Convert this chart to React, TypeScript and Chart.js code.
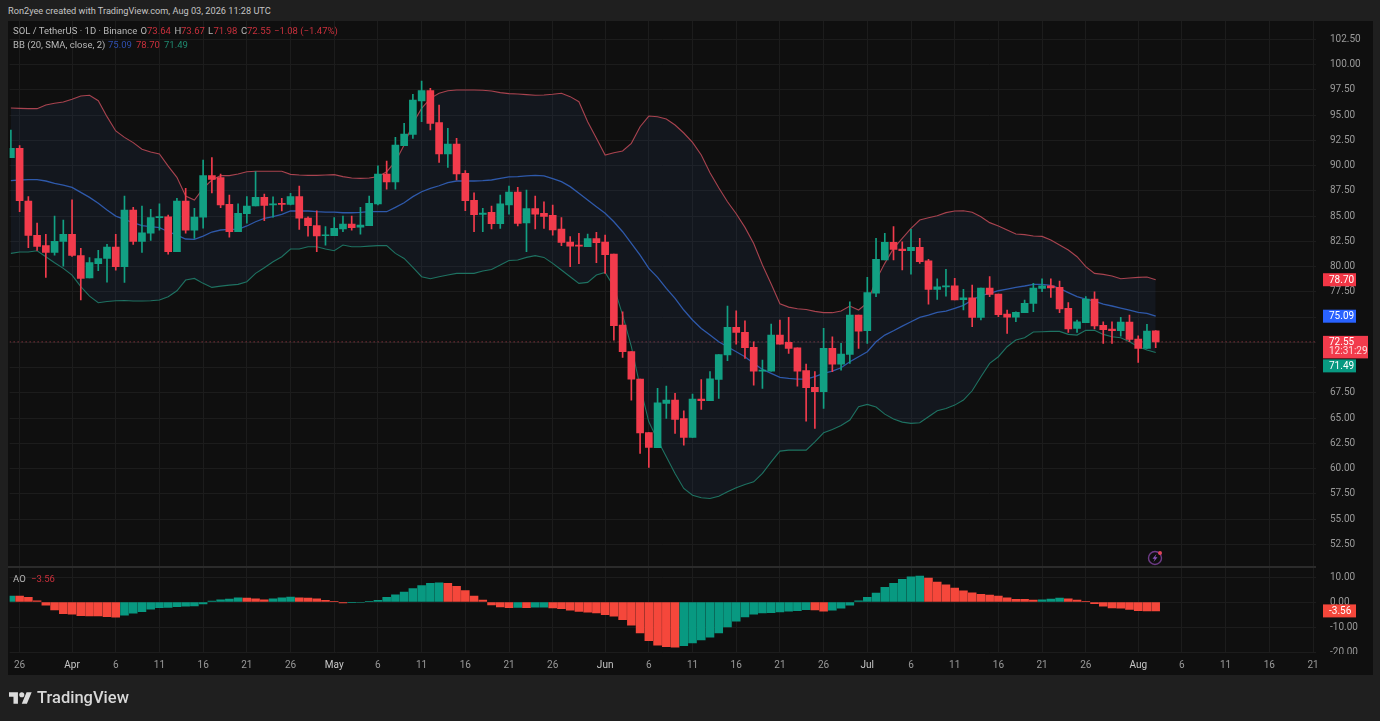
import React, { useEffect, useRef } from "react";
import { Chart, registerables } from "chart.js";

Chart.register(...registerables);

// Day index: 0 = Mar 26; the series begin on Mar 25 (-1) and end on Aug 3 (130)
const firstDay = -1;

const openValues = [
  90.78, 91.70, 86.49, 83.09, 82.07, 81.41, 82.50,
  83.20, 81.10, 78.87, 80.30, 80.80, 81.93, 79.99, 85.60, 82.50, 83.30, 84.84, 84.92, 81.47, 86.49, 83.60, 84.90, 89.00, 88.80, 86.16, 83.45, 85.24, 86.00, 86.85, 86.10, 86.17, 86.15, 86.92, 84.80, 84.05, 83.05,
  83.05, 83.72, 84.20, 83.90, 84.05, 86.20, 89.16, 88.37, 91.97, 93.09, 96.39, 97.41, 94.25, 91.14, 92.13, 89.23, 86.55, 85.17, 85.37, 84.25, 86.10, 87.38, 84.31, 85.73, 85.27, 85.07, 83.72, 82.43, 82.13, 81.97, 82.76,
  82.43, 81.24, 74.20, 71.60, 68.87, 63.58, 62.07, 66.45, 66.79, 64.97, 63.09, 66.89, 66.72, 68.84, 71.25, 73.98, 73.49, 72.00, 69.66, 69.66, 73.22, 72.50, 71.97, 69.70, 68.04, 67.61, 71.90, 70.35, 71.31, 75.20,
  73.65, 77.38, 80.65, 82.40, 81.74, 81.57, 81.90, 80.58, 77.74, 78.00, 78.10, 76.72, 76.92, 74.97, 77.88, 77.28, 75.30, 75.00, 75.44, 76.36, 77.85, 78.10, 77.94, 75.86, 73.88, 74.44, 76.79, 74.18, 73.82, 73.65, 74.51,
  72.83, 71.90, 73.64,
];
const highValues = [
  93.52, 91.97, 86.92, 84.30, 83.20, 85.00, 84.60,
  86.60, 81.80, 80.88, 81.60, 82.20, 83.20, 86.98, 85.86, 86.00, 85.67, 86.20, 85.10, 86.75, 87.75, 85.76, 90.55, 90.78, 89.16, 87.08, 86.20, 86.92, 89.40, 87.18, 86.90, 86.75, 87.25, 87.97, 84.93, 85.53, 83.95,
  84.84, 85.00, 85.00, 85.86, 86.98, 89.96, 90.45, 92.79, 94.18, 97.05, 98.37, 97.64, 95.99, 93.68, 92.70, 89.50, 87.30, 85.76, 85.99, 87.08, 87.97, 87.84, 87.58, 86.98, 86.42, 86.09, 84.84, 82.96, 83.30, 83.22, 83.38,
  83.12, 81.24, 75.53, 71.60, 68.87, 63.58, 67.94, 68.17, 67.45, 65.73, 67.38, 68.83, 69.60, 71.28, 76.10, 75.63, 74.64, 72.56, 70.75, 74.31, 74.71, 74.97, 71.97, 70.35, 69.60, 73.88, 73.06, 72.40, 76.52, 75.20,
  78.93, 82.80, 83.29, 83.95, 82.46, 83.69, 82.80, 80.71, 78.80, 79.73, 78.83, 77.75, 78.17, 77.88, 79.00, 77.28, 75.70, 75.53, 76.69, 78.34, 78.80, 78.80, 78.57, 76.43, 74.71, 77.02, 77.51, 74.54, 74.54, 74.97, 75.20,
  73.16, 74.28, 73.67,
];
const lowValues = [
  90.78, 85.43, 81.87, 81.60, 78.93, 81.14, 80.05,
  81.00, 76.70, 78.87, 79.60, 78.47, 79.65, 78.44, 82.20, 81.40, 82.60, 83.60, 81.24, 81.47, 83.30, 82.80, 83.80, 87.30, 85.83, 82.90, 83.45, 84.30, 86.00, 84.54, 84.90, 85.50, 86.10, 83.68, 83.00, 81.47, 82.13,
  83.05, 83.45, 83.60, 83.22, 84.05, 86.10, 87.65, 87.65, 91.97, 92.69, 94.34, 93.52, 90.30, 89.82, 88.57, 85.53, 83.45, 83.45, 83.72, 83.78, 85.20, 84.02, 81.47, 83.72, 83.78, 83.12, 82.07, 80.00, 80.30, 81.97, 80.40,
  79.33, 72.73, 71.00, 66.79, 61.50, 60.12, 62.07, 64.97, 63.49, 62.33, 63.09, 65.87, 66.72, 66.95, 70.68, 72.33, 70.91, 68.27, 67.94, 69.66, 72.33, 71.41, 68.17, 64.71, 63.98, 65.96, 69.60, 69.76, 70.42, 71.90,
  72.40, 77.02, 80.65, 80.65, 79.66, 79.26, 80.32, 76.29, 76.76, 77.08, 76.69, 75.70, 74.05, 74.71, 77.02, 75.04, 73.39, 74.54, 75.44, 75.53, 77.51, 76.95, 75.43, 73.49, 73.49, 74.44, 73.82, 72.40, 72.40, 73.12, 72.56,
  70.52, 71.90, 71.98,
];
const closeValues = [
  91.70, 86.52, 83.09, 82.00, 81.41, 82.50, 83.19,
  81.10, 78.83, 80.40, 80.80, 81.93, 79.99, 85.60, 82.50, 83.35, 84.84, 84.92, 81.47, 86.49, 83.60, 84.90, 89.00, 88.63, 86.10, 83.45, 85.27, 86.00, 86.85, 86.06, 86.17, 86.15, 86.92, 84.80, 84.05, 83.03, 83.10,
  83.78, 84.20, 83.85, 84.10, 86.26, 89.16, 88.37, 92.03, 93.12, 96.49, 97.41, 94.18, 91.14, 92.13, 89.16, 86.52, 85.14, 85.30, 84.25, 86.20, 87.38, 84.28, 85.73, 85.20, 84.97, 83.62, 82.40, 82.03, 82.03, 82.76, 82.37,
  81.18, 74.15, 71.57, 68.87, 63.55, 62.10, 66.52, 66.79, 64.87, 63.09, 66.89, 66.72, 68.90, 71.28, 73.98, 73.49, 71.97, 69.66, 69.76, 73.22, 72.33, 71.90, 69.66, 68.01, 67.61, 71.90, 70.35, 71.34, 75.20, 73.62,
  77.42, 80.71, 82.40, 81.70, 81.57, 81.90, 80.48, 77.74, 78.00, 78.10, 76.69, 76.92, 74.97, 77.88, 77.25, 75.24, 75.00, 75.47, 76.36, 77.88, 78.10, 77.90, 75.80, 73.82, 74.54, 76.79, 74.12, 73.75, 73.65, 74.51, 72.79,
  71.90, 73.62, 72.55,
];

const bbUpper = [
  95.70, 95.66, 95.63, 95.63, 96.00, 96.16, 96.29,
  96.56, 96.89, 96.95, 96.42, 94.84, 93.42, 92.79, 92.27, 91.61, 91.34, 91.14, 89.95, 88.83, 86.99, 86.59, 87.74, 88.57, 89.00, 89.00, 89.16, 89.39, 89.43, 89.43, 89.43, 89.43, 89.13, 89.06, 89.03, 89.03, 89.06,
  89.10, 88.90, 88.77, 88.73, 88.77, 88.90, 89.39, 90.38, 92.03, 94.18, 95.66, 96.65, 97.15, 97.41, 97.48, 97.48, 97.48, 97.45, 97.38, 97.22, 97.12, 97.08, 97.02, 96.95, 96.98, 97.05, 97.15, 96.82, 96.32, 94.34, 92.69,
  91.04, 91.27, 91.44, 92.20, 93.84, 94.90, 94.83, 94.60, 94.01, 93.22, 92.29, 91.04, 89.29, 87.80, 86.42, 85.23, 83.88, 82.29, 80.15, 78.27, 76.32, 75.99, 75.83, 75.76, 75.57, 75.44, 75.44, 75.60, 76.10, 75.70,
  76.40, 78.67, 80.32, 81.80, 82.80, 83.78, 84.61, 84.84, 85.04, 85.34, 85.50, 85.53, 85.37, 84.94, 84.35, 84.02, 83.62, 83.22, 83.16, 83.03, 82.99, 82.63, 82.13, 81.64, 80.98, 79.99, 79.33, 79.23, 79.07, 78.80, 78.87,
  78.93, 78.97, 78.70,
];
const bbBasis = [
  88.50, 88.57, 88.60, 88.60, 88.47, 88.24, 88.07,
  87.84, 87.35, 86.85, 86.26, 85.60, 85.00, 84.67, 84.34, 84.05, 83.95, 83.85, 83.45, 83.12, 82.73, 82.69, 83.02, 83.42, 83.62, 83.69, 83.69, 84.02, 84.44, 84.77, 84.94, 85.17, 85.50, 85.50, 85.50, 85.43, 85.40,
  85.40, 85.33, 85.33, 85.37, 85.43, 85.43, 85.43, 85.86, 86.32, 86.92, 87.41, 87.74, 88.00, 88.30, 88.47, 88.47, 88.47, 88.50, 88.57, 88.73, 88.87, 88.90, 88.97, 89.03, 88.97, 88.70, 88.40, 87.91, 87.25, 86.59, 85.93,
  85.27, 84.44, 83.45, 82.30, 81.14, 79.82, 78.93, 77.84, 76.85, 75.70, 74.71, 73.88, 73.22, 72.56, 72.07, 71.57, 71.08, 70.42, 69.82, 69.43, 69.03, 68.93, 68.87, 68.87, 69.10, 69.43, 69.66, 69.99, 70.58, 71.08,
  71.57, 72.56, 73.22, 73.65, 74.11, 74.54, 74.97, 75.20, 75.47, 75.60, 75.86, 76.16, 76.69, 77.12, 77.35, 77.61, 77.78, 77.94, 78.08, 78.24, 78.24, 78.14, 77.84, 77.42, 77.02, 76.79, 76.59, 76.29, 76.10, 75.90, 75.70,
  75.47, 75.37, 75.09,
];
const bbLower = [
  81.31, 81.44, 81.44, 81.57, 80.98, 80.38, 79.82,
  79.16, 78.01, 77.08, 76.42, 76.55, 76.62, 76.65, 76.59, 76.59, 76.62, 76.69, 77.02, 77.61, 78.67, 78.83, 78.34, 77.94, 78.07, 78.17, 78.24, 78.50, 79.33, 79.89, 80.48, 80.98, 81.74, 81.74, 81.97, 81.97, 81.74,
  81.57, 82.13, 81.97, 81.97, 82.03, 82.07, 82.07, 81.31, 80.81, 79.92, 79.00, 78.80, 79.00, 79.16, 79.33, 79.33, 79.33, 79.56, 79.72, 80.15, 80.61, 80.65, 80.91, 81.08, 80.91, 80.32, 79.66, 79.00, 78.34, 78.44, 79.16,
  79.43, 78.01, 75.20, 72.07, 68.11, 64.64, 62.83, 61.18, 59.53, 58.04, 57.38, 57.12, 57.05, 57.28, 57.71, 58.11, 58.44, 58.70, 59.53, 60.68, 61.74, 61.84, 61.84, 61.84, 62.66, 63.55, 63.88, 64.28, 64.81, 66.13,
  66.36, 66.10, 65.40, 64.91, 64.61, 64.48, 64.54, 65.14, 65.73, 65.96, 66.29, 66.79, 67.71, 69.10, 70.42, 71.08, 72.07, 72.73, 72.96, 73.52, 73.55, 73.59, 73.59, 73.29, 73.22, 73.69, 73.69, 73.29, 73.06, 72.96, 72.56,
  72.07, 71.74, 71.49,
];
const aoValues = [
  2.40, 2.35, 1.90, 0.50, -1.30, -3.20, -4.70,
  -4.90, -5.50, -5.55, -5.60, -5.90, -6.10, -5.30, -4.50, -3.90, -2.90, -2.30, -2.20, -1.90, -1.70, -1.60, -0.80, 0.40, 0.90, 1.20, 1.70, 1.60, 1.30, 0.90, 1.30, 1.70, 2.00, 1.70, 1.60, 1.30, 0.70,
  0.30, -0.35, -0.30, -0.20, 0.30, 0.70, 1.90, 2.90, 4.00, 5.40, 6.60, 7.50, 7.70, 7.50, 6.30, 4.60, 2.40, 0.80, -1.20, -2.00, -2.30, -2.15, -2.25, -2.10, -2.05, -2.40, -2.70, -3.30, -3.80, -4.10, -4.40,
  -5.10, -5.70, -7.10, -9.30, -12.40, -15.50, -17.30, -17.90, -18.10, -17.50, -16.40, -15.20, -14.10, -12.40, -10.00, -7.70, -6.00, -4.90, -4.40, -4.30, -4.00, -3.70, -3.50, -3.10, -3.20, -3.70, -3.30, -2.50, -1.30, 0.50,
  1.90, 3.60, 5.90, 7.50, 9.10, 10.10, 10.40, 9.60, 8.00, 6.90, 5.60, 4.50, 3.70, 3.10, 2.80, 2.40, 1.70, 1.10, 1.05, 0.80, 0.85, 1.20, 1.60, 1.30, 0.80, 0.30, -0.70, -1.70, -2.40, -2.45, -3.00, -3.50,
  -3.55, -3.56, -3.56,
];

const priceTicks = [102.5, 100, 97.5, 95, 92.5, 90, 87.5, 85, 82.5, 80, 77.5, 75, 72.5, 70, 67.5, 65, 62.5, 60, 57.5, 55, 52.5];
const aoTicks = [10, 0, -10, -20];
const timeTickDays = [0, 6, 11, 16, 21, 26, 31, 36, 41, 46, 51, 56, 61, 67, 72, 77, 82, 87, 92, 97, 102, 107, 112, 117, 122, 128, 133, 138, 143, 148];
const timeTickLabels = ["26", "Apr", "6", "11", "16", "21", "26", "May", "6", "11", "16", "21", "26", "Jun", "6", "11", "16", "21", "26", "Jul", "6", "11", "16", "21", "26", "Aug", "6", "11", "16", "21"];

const lastClose = 72.55;
const countdown = "12:31:29";
const bbLast = { basis: 75.09, upper: 78.7, lower: 71.49 };
const aoLast = -3.56;

const headerText = "Ron2yee created with TradingView.com, Aug 03, 2026 11:28 UTC";
const legendSegments = [
  { text: "SOL / TetherUS · 1D · Binance", x: 13, y: 31, color: "#b8b8b8" },
  { text: "O", x: 140.5, y: 31, color: "#b8b8b8" },
  { text: "73.64", x: 147, y: 31, color: "#c9303c" },
  { text: "H", x: 174.5, y: 31, color: "#b8b8b8" },
  { text: "73.67", x: 181, y: 31, color: "#c9303c" },
  { text: "L", x: 208, y: 31, color: "#b8b8b8" },
  { text: "71.98", x: 213.5, y: 31, color: "#c9303c" },
  { text: "C", x: 241, y: 31, color: "#b8b8b8" },
  { text: "72.55", x: 247, y: 31, color: "#c9303c" },
  { text: "−1.08 (−1.47%)", x: 274, y: 31, color: "#c9303c" },
  { text: "BB (20, SMA, close, 2)", x: 13, y: 45, color: "#b8b8b8" },
  { text: "75.09", x: 108, y: 45, color: "#2f4fb0" },
  { text: "78.70", x: 136, y: 45, color: "#c9303c" },
  { text: "71.49", x: 164, y: 45, color: "#1f8a70" },
  { text: "AO", x: 13, y: 579, color: "#b8b8b8" },
  { text: "−3.56", x: 31, y: 579, color: "#c9303c" },
];

const GREEN = "#12a083";
const RED = "#f23b4c";
const AO_GREEN = "#089981";
const AO_RED = "#f5473b";
const FONT = "Roboto, sans-serif";

const days = closeValues.map((_, i) => firstDay + i);
const series = (values: number[]) => values.map((y, i) => ({ x: days[i], y }));

function fixedAxis(scale: any, ticks: number[]) {
  scale.ticks = ticks.map((value) => ({ value }));
}

const overlayPlugin = {
  id: "overlay",
  beforeDraw(chart: any) {
    const { ctx, chartArea, width, height } = chart;
    ctx.save();
    ctx.fillStyle = "#0f0f0f";
    ctx.fillRect(0, chartArea.top, width, height - chartArea.top);
    ctx.restore();
  },
  afterDraw(chart: any) {
    const { ctx, scales, chartArea } = chart;
    const y = scales.y;
    const ao = scales.ao;
    ctx.save();
    // pane separator
    ctx.fillStyle = "#2b2b2b";
    ctx.fillRect(0, ao.top - 1, chartArea.right, 2);
    // the lowest oscillator label is cut by the pane's edge
    ctx.fillStyle = "#0f0f0f";
    ctx.fillRect(chartArea.right + 11, ao.bottom + 1, 46, 22);

    const badge = (value: string, top: number, color: string, w = 33, h = 13) => {
      ctx.fillStyle = color;
      ctx.fillRect(chartArea.right + 7, top, w, h);
      ctx.fillStyle = "#ffffff";
      ctx.font = `10px ${FONT}`;
      ctx.textAlign = "left";
      ctx.textBaseline = "middle";
      ctx.fillText(value, chartArea.right + 13, top + 6.8);
    };
    badge(bbLast.upper.toFixed(2), y.getPixelForValue(bbLast.upper) - 6.5, "#f23645");
    badge(bbLast.basis.toFixed(2), y.getPixelForValue(bbLast.basis) - 6.5, "#2962ff");
    const py = y.getPixelForValue(lastClose);
    badge(lastClose.toFixed(2), py - 6, RED, 45, 22.5);
    ctx.fillStyle = "#ffd9dc";
    ctx.font = `10px ${FONT}`;
    ctx.fillText(countdown, chartArea.right + 13, py + 10);
    badge(bbLast.lower.toFixed(2), py + 17.5, "#089981");
    badge(aoLast.toFixed(2), ao.getPixelForValue(aoLast) - 6.5, AO_RED);

    // alert badge
    const ix = 1147;
    const iy = 557;
    ctx.strokeStyle = "#6d3a86";
    ctx.lineWidth = 1.4;
    ctx.beginPath();
    ctx.arc(ix, iy, 6.5, 0, Math.PI * 2);
    ctx.stroke();
    ctx.fillStyle = "#8c56c0";
    ctx.beginPath();
    ctx.moveTo(ix + 1.5, iy - 4);
    ctx.lineTo(ix - 2.5, iy + 0.8);
    ctx.lineTo(ix - 0.2, iy + 0.8);
    ctx.lineTo(ix - 1.5, iy + 4);
    ctx.lineTo(ix + 2.5, iy - 0.8);
    ctx.lineTo(ix + 0.2, iy - 0.8);
    ctx.closePath();
    ctx.fill();
    ctx.fillStyle = "#e0455a";
    ctx.beginPath();
    ctx.arc(ix + 5, iy - 5, 2, 0, Math.PI * 2);
    ctx.fill();
    ctx.restore();
  },
};

export default function App() {
  const ref = useRef<HTMLCanvasElement>(null);

  useEffect(() => {
    if (!ref.current) return;
    const candleColors = closeValues.map((c, i) => (c >= openValues[i] ? GREEN : RED));
    const aoColors = aoValues.map((v, i) => (i === 0 || v > aoValues[i - 1] ? AO_GREEN : AO_RED));
    const xMin = -1.143;
    const xMax = 148.343;
    const line = (label: string, values: number[], color: string, extra: object = {}) => ({
      type: "line" as const,
      label,
      data: series(values),
      borderColor: color,
      borderWidth: 1.1,
      pointRadius: 0,
      tension: 0,
      yAxisID: "y",
      order: 3,
      ...extra,
    });
    const chart = new Chart(ref.current, {
      type: "bar",
      data: {
        datasets: [
          line("BB upper", bbUpper, "#a8434f", { fill: 2, backgroundColor: "rgba(44,78,130,0.13)" }),
          line("BB basis", bbBasis, "#2f5bb0", { borderWidth: 1.3 }),
          line("BB lower", bbLower, "#1e7560"),
          {
            type: "line",
            label: "Last price",
            data: [{ x: xMin, y: lastClose }, { x: xMax, y: lastClose }],
            borderColor: "#b0404c",
            borderWidth: 1,
            borderDash: [1, 3],
            pointRadius: 0,
            yAxisID: "y",
            order: 4,
          },
          {
            type: "bar",
            label: "Wick",
            data: days.map((x, i) => ({ x, y: [lowValues[i], highValues[i]] })),
            backgroundColor: candleColors,
            barThickness: 1,
            grouped: false,
            yAxisID: "y",
            order: 2,
          },
          {
            type: "bar",
            label: "Body",
            data: days.map((x, i) => ({ x, y: [openValues[i], closeValues[i]] })),
            backgroundColor: candleColors,
            barThickness: 7,
            minBarLength: 1,
            grouped: false,
            yAxisID: "y",
            order: 1,
          },
          {
            type: "bar",
            label: "AO",
            data: series(aoValues),
            backgroundColor: aoColors,
            barThickness: 7.9,
            grouped: false,
            yAxisID: "ao",
            order: 1,
          },
        ] as any,
      },
      options: {
        responsive: false,
        animation: false,
        devicePixelRatio: 1,
        layout: { padding: 0 },
        plugins: { legend: { display: false }, title: { display: false }, tooltip: { enabled: false } },
        scales: {
          x: {
            type: "linear",
            min: xMin,
            max: xMax,
            offset: false,
            grid: { color: "#1c1c1c", offset: false, drawTicks: false },
            border: { display: false },
            afterBuildTicks: (s: any) => fixedAxis(s, timeTickDays),
            afterFit: (s: any) => { s.height = 22; },
            ticks: {
              autoSkip: false,
              maxRotation: 0,
              padding: 6,
              color: (c: any) => (isNaN(Number(timeTickLabels[c.index])) ? "#c8c8c8" : "#9a9a9a"),
              font: { family: FONT, size: 10 },
              callback: (v: any) => timeTickLabels[timeTickDays.indexOf(Number(v))] ?? "",
            },
          },
          y: {
            type: "linear",
            position: "right",
            stack: "panes",
            stackWeight: 546,
            min: 50.27,
            max: 104.305,
            grid: { color: "#1c1c1c", drawTicks: false },
            border: { display: false },
            afterBuildTicks: (s: any) => fixedAxis(s, priceTicks),
            afterFit: (s: any) => { s.width = 57; },
            ticks: {
              autoSkip: false,
              padding: 14,
              color: "#9a9a9a",
              font: { family: FONT, size: 10 },
              callback: (v: any) => Number(v).toFixed(2),
            },
          },
          ao: {
            type: "linear",
            position: "right",
            stack: "panes",
            stackWeight: 86,
            min: -20.4,
            max: 14,
            grid: { color: "#1c1c1c", drawTicks: false },
            border: { display: false },
            afterBuildTicks: (s: any) => fixedAxis(s, aoTicks),
            afterFit: (s: any) => { s.width = 57; },
            ticks: {
              autoSkip: false,
              padding: 14,
              color: "#9a9a9a",
              font: { family: FONT, size: 10 },
              callback: (v: any) => Number(v).toFixed(2),
            },
          },
        },
      } as any,
      plugins: [overlayPlugin],
    });
    return () => chart.destroy();
  }, []);

  const textStyle: React.CSSProperties = {
    position: "absolute",
    fontFamily: FONT,
    fontSize: 9.5,
    lineHeight: "14px",
    whiteSpace: "nowrap",
  };

  return (
    <div style={{ position: "fixed", inset: 0, background: "#1f1f1f", overflow: "hidden" }}>
      <div style={{ ...textStyle, left: 8, top: 4, fontSize: 9.2, color: "#c4c4c4" }}>{headerText}</div>
      <canvas
        ref={ref}
        width={1365}
        height={674}
        style={{ position: "absolute", left: 8, top: 1, width: 1365, height: 674 }}
      />
      {legendSegments.map((s, i) => (
        <span key={i} style={{ ...textStyle, left: s.x, top: s.y - 7, color: s.color }}>
          {s.text}
        </span>
      ))}
      <svg width="23" height="12" viewBox="0 4 36 18" style={{ position: "absolute", left: 9, top: 692 }}>
        <path fill="#dcdcdc" d="M14 22H7V11H0V4h14v18zM28 22h-8l7.5-18h8L28 22z" />
        <circle fill="#dcdcdc" cx="20" cy="8" r="4" />
      </svg>
      <div style={{ ...textStyle, left: 37, top: 688, fontSize: 16.5, lineHeight: "20px", fontWeight: 500, color: "#d8d8d8" }}>
        TradingView
      </div>
    </div>
  );
}
